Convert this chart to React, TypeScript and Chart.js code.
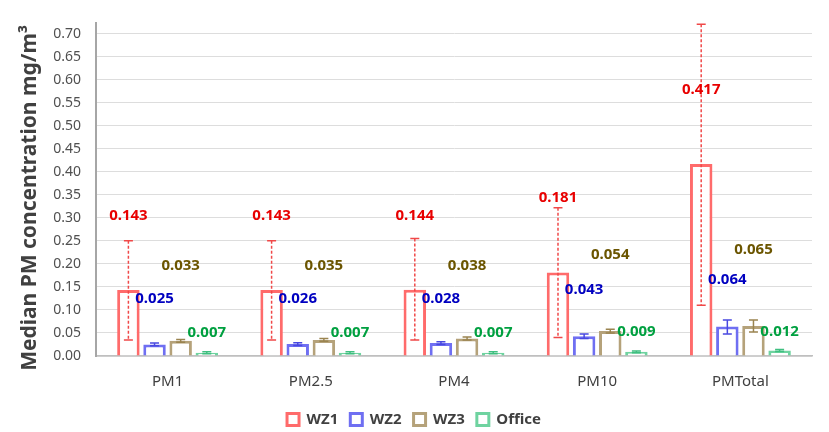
import { useEffect, useRef } from "react"
import { Chart, registerables } from "chart.js"

Chart.register(...registerables)

const categories = ["PM1", "PM2.5", "PM4", "PM10", "PMTotal"]
const seriesNames = ["WZ1", "WZ2", "WZ3", "Office"]

const wz1 = [0.143, 0.143, 0.144, 0.181, 0.417]
const wz2 = [0.025, 0.026, 0.028, 0.043, 0.064]
const wz3 = [0.033, 0.035, 0.038, 0.054, 0.065]
const office = [0.007, 0.007, 0.007, 0.009, 0.012]

// error bar ranges (low / high)
const wz1Low = [0.035, 0.035, 0.035, 0.04, 0.11]
const wz1High = [0.25, 0.25, 0.255, 0.322, 0.72]
const wz2Low = [0.022, 0.023, 0.025, 0.038, 0.048]
const wz2High = [0.028, 0.029, 0.031, 0.048, 0.078]
const wz3Low = [0.03, 0.032, 0.035, 0.05, 0.052]
const wz3High = [0.036, 0.038, 0.041, 0.058, 0.078]
const officeLow = [0.005, 0.005, 0.005, 0.007, 0.01]
const officeHigh = [0.009, 0.009, 0.009, 0.011, 0.014]

// where the value labels sit (in axis units)
const wz1LabelAt = [0.305, 0.305, 0.305, 0.343, 0.577]
const wz2LabelAt = [0.124, 0.124, 0.124, 0.143, 0.165]
const wz3LabelAt = [0.197, 0.197, 0.197, 0.219, 0.23]
const officeLabelAt = [0.05, 0.05, 0.05, 0.052, 0.052]

const yTicks = [0, 0.05, 0.1, 0.15, 0.2, 0.25, 0.3, 0.35, 0.4, 0.45, 0.5, 0.55, 0.6, 0.65, 0.7]
const yTitle = "Median PM concentration mg/m³"

const values = [wz1, wz2, wz3, office]
const lows = [wz1Low, wz2Low, wz3Low, officeLow]
const highs = [wz1High, wz2High, wz3High, officeHigh]
const labelAt = [wz1LabelAt, wz2LabelAt, wz3LabelAt, officeLabelAt]

const barColors = ["#FF6B6B", "#6F6FF2", "#B5A27A", "#6FD3A0"]
const errColors = ["#F04848", "#4848E0", "#9A8450", "#3FBF80"]
const labelColors = ["#E80000", "#0000C0", "#6B5500", "#00A040"]

const FONT = "'Noto Sans', 'Open Sans', sans-serif"

const errorBars = {
  id: "errorBars",
  afterDatasetsDraw(chart: Chart) {
    const ctx = chart.ctx
    const y = chart.scales.y
    ctx.save()
    values.forEach((_, ds) => {
      const meta = chart.getDatasetMeta(ds)
      meta.data.forEach((bar: any, i: number) => {
        const x = bar.x
        const top = y.getPixelForValue(highs[ds][i])
        const bottom = y.getPixelForValue(lows[ds][i])
        ctx.strokeStyle = errColors[ds]
        ctx.lineWidth = 1.5
        ctx.setLineDash(ds === 0 ? [3, 2] : [])
        ctx.beginPath()
        ctx.moveTo(x, top)
        ctx.lineTo(x, bottom)
        ctx.stroke()
        ctx.setLineDash([])
        ctx.beginPath()
        ctx.moveTo(x - 4.5, top)
        ctx.lineTo(x + 4.5, top)
        ctx.moveTo(x - 4.5, bottom)
        ctx.lineTo(x + 4.5, bottom)
        ctx.stroke()
      })
    })
    ctx.restore()
  },
}

const valueLabels = {
  id: "valueLabels",
  afterDraw(chart: Chart) {
    const ctx = chart.ctx
    const y = chart.scales.y
    ctx.save()
    ctx.font = `bold 15px ${FONT}`
    ctx.textAlign = "center"
    ctx.textBaseline = "middle"
    values.forEach((vals, ds) => {
      const meta = chart.getDatasetMeta(ds)
      meta.data.forEach((bar: any, i: number) => {
        ctx.fillStyle = labelColors[ds]
        ctx.fillText(vals[i].toFixed(3), bar.x, y.getPixelForValue(labelAt[ds][i]))
      })
    })
    // rotated y axis title
    ctx.translate(30, 198)
    ctx.rotate(-Math.PI / 2)
    ctx.font = `bold 21px ${FONT}`
    ctx.fillStyle = "#404040"
    ctx.fillText(yTitle, 0, 0)
    ctx.restore()
  },
}

export default function App() {
  const chartRef = useRef<HTMLCanvasElement>(null)
  const chartInstance = useRef<Chart | null>(null)

  useEffect(() => {
    document.body.style.margin = "0"
    if (!chartRef.current) return
    const ctx = chartRef.current.getContext("2d")
    if (!ctx) return

    if (chartInstance.current) chartInstance.current.destroy()

    chartInstance.current = new Chart(ctx, {
      type: "bar",
      data: {
        labels: categories,
        datasets: seriesNames.map((name, ds) => ({
          label: name,
          data: values[ds],
          backgroundColor: "#FFFFFF",
          borderColor: barColors[ds],
          borderWidth: 3,
          barPercentage: 0.86,
          categoryPercentage: 0.73,
        })),
      },
      options: {
        responsive: true,
        maintainAspectRatio: false,
        animation: false,
        layout: { padding: { top: 21, right: 17, left: 16, bottom: -5 } },
        plugins: {
          legend: {
            position: "bottom",
            labels: {
              boxWidth: 12,
              boxHeight: 12,
              padding: 12,
              color: "#404040",
              font: { family: FONT, size: 15, weight: "bold" },
            },
          },
          tooltip: { enabled: false },
        },
        scales: {
          x: {
            grid: { display: false },
            border: { color: "#BFBFBF", width: 1.5 },
            afterFit: (scale: any) => {
              scale.height = 44
            },
            ticks: {
              color: "#404040",
              padding: 9,
              font: { family: FONT, size: 15 },
            },
          },
          y: {
            min: 0,
            max: 0.722,
            afterBuildTicks: (scale: any) => {
              scale.ticks = yTicks.map((v) => ({ value: v }))
            },
            afterFit: (scale: any) => {
              scale.width = 80
            },
            grid: { color: "#DDDDDD", drawTicks: false },
            border: { color: "#A6A6A6", width: 2 },
            ticks: {
              color: "#505050",
              padding: 15,
              font: { family: FONT, size: 14 },
              callback: (v: any) => Number(v).toFixed(2),
            },
          },
        },
      },
      plugins: [errorBars, valueLabels],
    })

    return () => {
      if (chartInstance.current) {
        chartInstance.current.destroy()
        chartInstance.current = null
      }
    }
  }, [])

  return (
    <div style={{ width: 829, height: 432, background: "#FFFFFF" }}>
      <canvas ref={chartRef}></canvas>
    </div>
  )
}
